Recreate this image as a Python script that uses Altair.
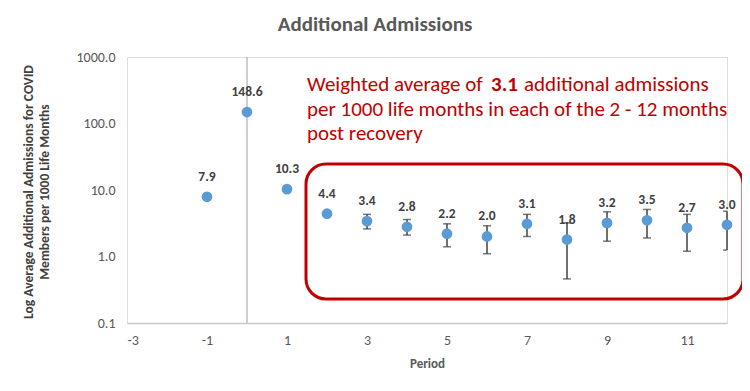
import altair as alt
import pandas as pd

# ---- data ----
periods = [-1, 0, 1, 2, 3, 4, 5, 6, 7, 8, 9, 10, 11, 12]
values = [7.9, 148.6, 10.3, 4.4, 3.4, 2.8, 2.2, 2.0, 3.1, 1.8, 3.2, 3.5, 2.7, 3.0]

err_periods = [3, 4, 5, 6, 7, 8, 9, 10, 11, 12]
err_low = [2.6, 2.1, 1.4, 1.1, 2.0, 0.46, 1.7, 1.9, 1.2, 1.25]
err_high = [4.3, 3.6, 3.1, 2.9, 4.3, 3.2, 4.7, 5.1, 4.3, 4.8]

x_ticks = [-3, -1, 1, 3, 5, 7, 9, 11]
y_ticks = [0.1, 1, 10, 100, 1000]

title_text = "Additional Admissions"
y_title = ["Log Average Additional Admissions for COVID", "Members  per 1000 Life Months"]
x_title = "Period"
note_a = "Weighted average of"
note_b = "3.1"
note_c = "additional admissions"
note_line2 = "per 1000 life months in each of the 2 - 12 months"
note_line3 = "post recovery"

FONT = "Carlito, Calibri, Lato, sans-serif"
RED = "#C00000"

pts = pd.DataFrame({"period": periods, "value": values})
errs = pd.DataFrame({"period": err_periods, "lo": err_low, "hi": err_high})
vline = pd.DataFrame({"period": [0], "lo": [0.1], "hi": [1000]})
dummy = pd.DataFrame({"a": [0]})

xs = alt.Scale(domain=[-3, 12], nice=False, zero=False)
ys = alt.Scale(type="log", domain=[0.1, 1000], nice=False)

x_enc = alt.X("period:Q", scale=xs, axis=alt.Axis(
    values=x_ticks, labelExpr="'' + datum.value", title=x_title, grid=False, ticks=False,
    domainColor="#C8C8C8", domainWidth=1.5, labelColor="#595959", labelFont=FONT,
    labelFontSize=14, labelPadding=10, titleFont=FONT, titleFontSize=13,
    titleColor="#595959", titleFontWeight="bold", titlePadding=10))
y_enc = alt.Y("value:Q", scale=ys, axis=alt.Axis(
    values=y_ticks, format=".1f", title=None, grid=False, ticks=False, domain=False,
    labelColor="#595959", labelFont=FONT, labelFontSize=14, labelPadding=12))

rule0 = alt.Chart(vline).mark_rule(color="#BFBFBF", strokeWidth=1.5).encode(
    x=alt.X("period:Q", scale=xs),
    y=alt.Y("lo:Q", scale=ys),
    y2="hi:Q")

points = alt.Chart(pts).mark_circle(size=115, color="#5B9BD5", opacity=1).encode(
    x=x_enc, y=y_enc)

labels = alt.Chart(pts).mark_text(
    font=FONT, fontSize=13.5, fontWeight="bold", color="#404040", dy=-20,
    baseline="middle").encode(
    x=alt.X("period:Q", scale=xs), y=alt.Y("value:Q", scale=ys),
    text=alt.Text("value:Q", format=".1f"))

err_rule = alt.Chart(errs).mark_rule(color="#404040", strokeWidth=1.5).encode(
    x=alt.X("period:Q", scale=xs), y=alt.Y("lo:Q", scale=ys), y2="hi:Q")
cap_lo = alt.Chart(errs).mark_tick(color="#404040", orient="horizontal", size=8,
                                    thickness=1.5, clip=True).encode(
    x=alt.X("period:Q", scale=xs), y=alt.Y("lo:Q", scale=ys))
cap_hi = alt.Chart(errs).mark_tick(color="#404040", orient="horizontal", size=8,
                                    thickness=1.5, clip=True).encode(
    x=alt.X("period:Q", scale=xs), y=alt.Y("hi:Q", scale=ys))

box = alt.Chart(dummy).mark_rect(filled=False, stroke=RED, strokeWidth=3,
                                  cornerRadius=20).encode(
    x=alt.value(179), x2=alt.value(616), y=alt.value(107), y2=alt.value(242))


def txt(s, x, y, size, weight="normal", color=RED, align="left", angle=0):
    return alt.Chart(dummy).mark_text(
        text=s, font=FONT, fontSize=size, fontWeight=weight, color=color,
        align=align, baseline="middle", angle=angle).encode(
        x=alt.value(x), y=alt.value(y))


notes = [
    txt(note_a, 180, 28, 21),
    txt(note_b, 364, 28, 21, weight="bold"),
    txt(note_c, 397, 28, 21),
    txt(note_line2, 180, 52.5, 21),
    txt(note_line3, 180, 77, 21),
    txt(title_text, 248, -32, 21, weight="bold", color="#595959", align="center"),
    txt(y_title[0], -98, 135, 13.5, weight="bold", color="#404040", align="center", angle=270),
    txt(y_title[1], -82, 135, 13.5, weight="bold", color="#404040", align="center", angle=270),
]

chart = alt.layer(rule0, err_rule, cap_lo, cap_hi, points, labels, box, *notes).properties(
    width=600, height=266,
    autosize=alt.AutoSizeParams(type="none"),
    padding={"left": 119, "top": 49, "right": 15, "bottom": 60},
).configure_view(stroke=None).configure(background="white")

chart.save("out.html", embed_options={"renderer": "svg", "actions": False})
